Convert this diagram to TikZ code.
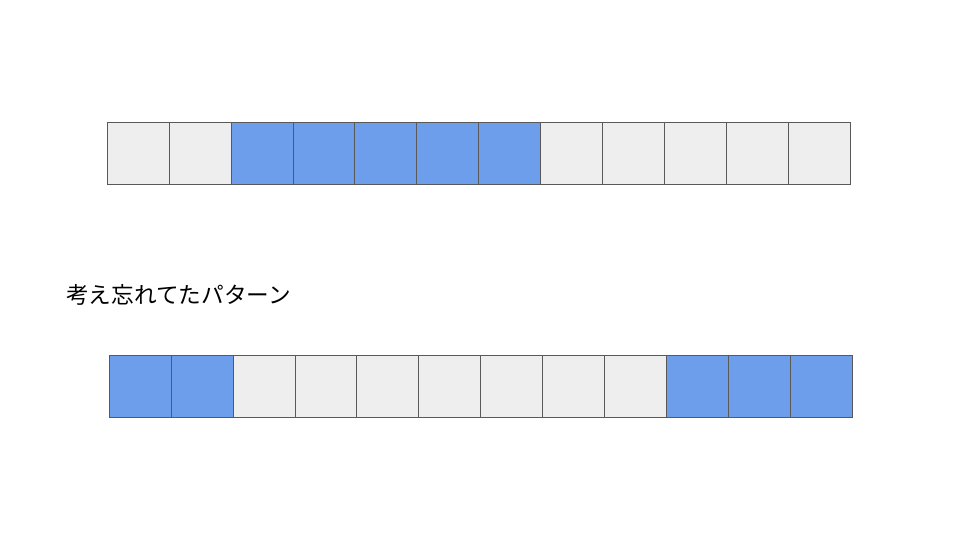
\documentclass[tikz,border=0pt]{standalone}
\usepackage{fontspec}
\newfontfamily\cjk{Noto Sans CJK JP}
\definecolor{CellClr}{HTML}{EEEEEE}
\definecolor{HitClr}{HTML}{6D9EEB}
\definecolor{EdgeClr}{HTML}{595959}

\begin{document}
\begin{tikzpicture}[x=0.025cm,y=-0.025cm,
  cell/.style={draw=EdgeClr,line width=0.7pt,fill=CellClr,minimum width=61.9*0.025cm,
    minimum height=61.9*0.025cm,inner sep=0pt,outer sep=0pt,anchor=north west},
  hit/.style={cell,fill=HitClr}]
\useasboundingbox (0,0) rectangle (960,540);

% first row
\foreach \i in {0,...,11}{
  \pgfmathtruncatemacro{\on}{(\i>1)&&(\i<7)}
  \ifnum\on=1
    \node[hit] (A\i) at (107.3+61.9*\i,122.3) {};
  \else
    \node[cell] (A\i) at (107.3+61.9*\i,122.3) {};
  \fi
}

\node[anchor=west,inner sep=0pt] (title) at (66,295) {\cjk\fontsize{16.1}{18}\selectfont 考え忘れてたパターン};

% second row
\foreach \i in {0,...,11}{
  \pgfmathtruncatemacro{\on}{(\i<2)||(\i>8)}
  \ifnum\on=1
    \node[hit] (B\i) at (109.3+61.9*\i,355.3) {};
  \else
    \node[cell] (B\i) at (109.3+61.9*\i,355.3) {};
  \fi
}

\end{tikzpicture}
\end{document}
